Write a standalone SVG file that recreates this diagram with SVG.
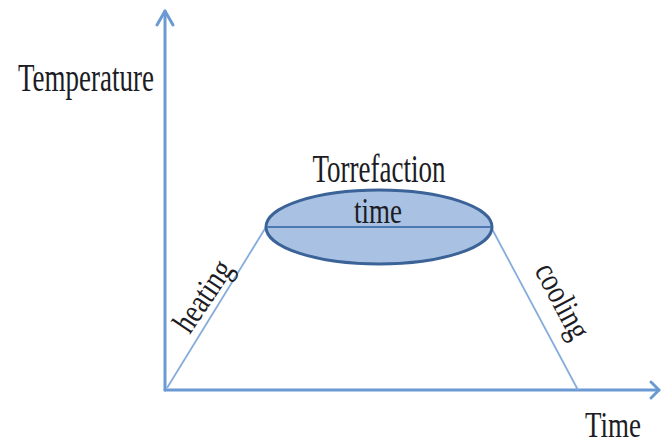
<svg xmlns="http://www.w3.org/2000/svg" width="662" height="445" viewBox="0 0 662 445">
<style>
.axis{stroke:#6b9ad3;stroke-width:3;fill:none;stroke-linecap:round;stroke-linejoin:round}
.ramp{stroke:#86acdc;stroke-width:1.8;fill:none}
.lbl{font-family:"Liberation Serif","Times New Roman",serif;font-size:27px;fill:#1c1c24}
</style>
<rect width="662" height="445" fill="#ffffff"/>
<g id="connectors">
<path class="axis" d="M165,390 V11"/>
<path class="axis" d="M157,25 L165,11 L173,25"/>
<path class="axis" d="M165,390 H659"/>
<path class="axis" d="M651,382 L659,390 L651,398"/>
<path class="ramp" d="M167,388 L266,227"/>
<path class="ramp" d="M491,227 L578,390"/>
</g>
<g id="torrefaction">
<ellipse cx="379" cy="227" rx="113" ry="37" fill="#a9c2e3" stroke="#3b6397" stroke-width="3"/>
<line x1="267" y1="227" x2="491" y2="227" stroke="#4a78b2" stroke-width="2.2"/>
<text class="lbl" text-anchor="middle" transform="translate(379,182) scale(1,1.45)">Torrefaction</text>
<text class="lbl" text-anchor="middle" transform="translate(378,223) scale(1,1.3)" font-size="25.5">time</text>
</g>
<g id="temperature">
<text class="lbl" transform="translate(18,91) scale(1,1.45)">Temperature</text>
</g>
<g id="time">
<text class="lbl" transform="translate(585,437) scale(1,1.3)" font-size="26">Time</text>
</g>
<g id="heating">
<text class="lbl" text-anchor="middle" transform="translate(212,302) rotate(-56) scale(1,1.25)">heating</text>
</g>
<g id="cooling">
<text class="lbl" text-anchor="middle" transform="translate(553,306) rotate(62) scale(1,1.25)">cooling</text>
</g>
</svg>
